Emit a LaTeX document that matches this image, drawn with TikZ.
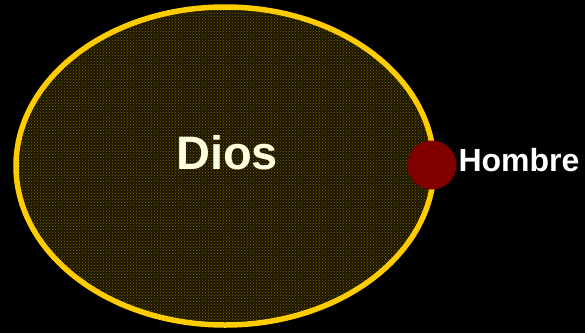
\documentclass[tikz,border=0pt]{standalone}
\usepackage{fontspec}
\setmainfont{Liberation Sans}
\usepackage{tikz}
\usetikzlibrary{patterns}
\definecolor{cGold}{RGB}{255,204,0}
\definecolor{cOlive}{RGB}{26,22,0}
\definecolor{cMaroon}{RGB}{128,0,0}
\definecolor{cCream}{RGB}{255,255,224}
\tikzset{
	manshape/.style={circle, fill=cMaroon, inner sep=0pt, minimum size=49pt},
	bigword/.style ={font=\bfseries\fontsize{47}{50}\selectfont, text=cCream},
	smallword/.style={font=\bfseries\fontsize{32}{34}\selectfont, text=white},
}
\begin{document}
\begin{tikzpicture}[x=1pt, y=-1pt]
	\fill[black] (0,0) rectangle (585,333);
	\useasboundingbox (0,0) rectangle (585,333);
	% the large ellipse
	\draw[draw=cGold, line width=5.5pt, fill=cOlive] (225,166) ellipse [x radius=209pt, y radius=159pt];
	\fill[pattern=crosshatch dots, pattern color=cGold!50!black] (225,166) ellipse [x radius=206pt, y radius=156pt];
	\node[bigword] (dios) at (227,153) {Dios};
	\node[manshape] (hombre) at (432,165) {};
	\node[smallword, anchor=west] (lbl) at (455,160) {Hombre};
\end{tikzpicture}
\end{document}
